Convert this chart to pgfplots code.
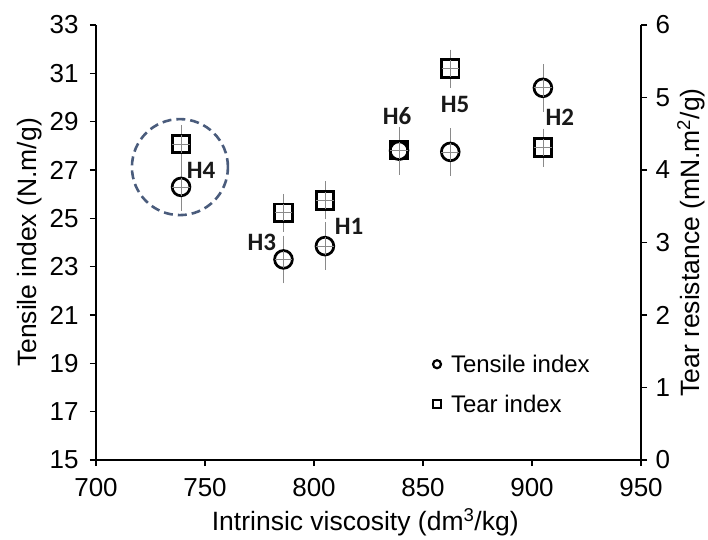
\documentclass[border=0pt]{standalone}
\usepackage{fontspec}
\setmainfont{Liberation Sans}
\newfontfamily\hfont{Carlito}
\usepackage{pgfplots}
\pgfplotsset{compat=1.18}
\definecolor{ringblue}{HTML}{4A5C7C}
\definecolor{ebgray}{HTML}{8A8A8A}

\pgfdeclareplotmark{circx}{%
  \pgfpathcircle{\pgfpointorigin}{\pgfplotmarksize}%
  \pgfusepathqstroke
  \begin{pgfscope}%
  \pgfsetlinewidth{0.7pt}\pgfsetstrokecolor{ebgray}%
  \pgfpathmoveto{\pgfqpoint{-\pgfplotmarksize}{0pt}}%
  \pgfpathlineto{\pgfqpoint{\pgfplotmarksize}{0pt}}%
  \pgfpathmoveto{\pgfqpoint{0pt}{-\pgfplotmarksize}}%
  \pgfpathlineto{\pgfqpoint{0pt}{\pgfplotmarksize}}%
  \pgfusepathqstroke
  \end{pgfscope}%
}
\pgfdeclareplotmark{sqx}{%
  \pgfpathrectanglecorners{\pgfqpoint{-\pgfplotmarksize}{-\pgfplotmarksize}}{\pgfqpoint{\pgfplotmarksize}{\pgfplotmarksize}}%
  \pgfusepathqstroke
  \begin{pgfscope}%
  \pgfsetlinewidth{0.7pt}\pgfsetstrokecolor{ebgray}%
  \pgfpathmoveto{\pgfqpoint{-\pgfplotmarksize}{0pt}}%
  \pgfpathlineto{\pgfqpoint{\pgfplotmarksize}{0pt}}%
  \pgfpathmoveto{\pgfqpoint{0pt}{-\pgfplotmarksize}}%
  \pgfpathlineto{\pgfqpoint{0pt}{\pgfplotmarksize}}%
  \pgfusepathqstroke
  \end{pgfscope}%
}

\pgfplotstableread{
x y e
739 26.3 0.8
786 23.3 0.8
805 23.85 0.8
839 27.8 0.8
862.5 27.75 0.8
905 30.4 0.8
}\tensile
\pgfplotstableread{
x y e
739 4.36 0.2
786 3.41 0.2
805 3.58 0.2
839 4.27 0.15
862.5 5.40 0.2
905 4.31 0.2
}\tear

\newcommand{\tickfont}{\fontsize{26}{26}\selectfont}
\pgfplotsset{
  common/.style={
    scale only axis, width=545pt, height=435pt,
    xmin=700, xmax=950,
    tick align=outside, major tick length=6pt,
    axis line style={line width=1.8pt, -},
    tick style={line width=1.5pt, black},
    xticklabel style={font=\tickfont, yshift=-9pt},
    yticklabel style={font=\tickfont},
    xticklabel={\tickfont\pgfmathprintnumber[assume math mode=true,1000 sep={}]{\tick}},
    yticklabel={\tickfont\pgfmathprintnumber[assume math mode=true,1000 sep={}]{\tick}},
    label style={font=\fontsize{26.5}{26.5}\selectfont},
    clip=false,
  },
  ebars/.style={
    error bars/.cd, y dir=both, y explicit,
    error bar style={ebgray, line width=0.8pt},
    error mark options={ebgray, line width=0.8pt, mark size=4.5pt},
  },
}

\begin{document}
\begin{tikzpicture}
\useasboundingbox (-96pt,-79pt) rectangle (612pt,460pt);
\begin{axis}[common,
  ymin=15, ymax=33,
  xtick={700,750,...,950}, ytick={15,17,...,33},
  axis x line*=bottom, axis y line*=left,
  yticklabel style={xshift=-8pt},
  xlabel={Intrinsic viscosity (dm\textsuperscript{3}/kg)},
  ylabel={Tensile index (N.m/g)},
  xlabel style={at={(axis description cs:0.494,0)}, anchor=center, yshift=-62pt},
  ylabel style={at={(axis description cs:0,0.5)}, anchor=center, yshift=66pt},
]
\addplot[only marks, mark=circx, mark size=8.9pt, mark options={line width=2.7pt, black}, ebars]
  table[x=x, y=y, y error=e] {\tensile};
\draw[ringblue, line width=2.6pt, dash pattern=on 9pt off 5pt] (axis cs:738.5,27.12) circle[radius=48pt];
\node[font=\hfont\bfseries\fontsize{25}{25}\selectfont, text=black!90] at (axis cs:748.2,27.0) {H4};
\node[font=\hfont\bfseries\fontsize{25}{25}\selectfont, text=black!90] at (axis cs:776.1,24.02) {H3};
\node[font=\hfont\bfseries\fontsize{25}{25}\selectfont, text=black!90] at (axis cs:816.1,24.68) {H1};
\node[font=\hfont\bfseries\fontsize{25}{25}\selectfont, text=black!90] at (axis cs:838.1,29.23) {H6};
\node[font=\hfont\bfseries\fontsize{25}{25}\selectfont, text=black!90] at (axis cs:864.7,29.73) {H5};
\node[font=\hfont\bfseries\fontsize{25}{25}\selectfont, text=black!90] at (axis cs:912.8,29.19) {H2};
\end{axis}
\begin{axis}[common,
  ymin=0, ymax=6, ytick={0,1,...,6},
  axis x line=none, axis y line*=right,
  yticklabel style={xshift=5pt},
  ylabel={Tear resistance (mN.m\textsuperscript{2}/g)},
  ylabel style={at={(axis description cs:1,0.5)}, anchor=center, yshift=-50pt},
  legend style={at={(0.618,0.247)}, anchor=north west, draw=none, fill=none,
    font=\fontsize{24}{24}\selectfont, row sep=17pt, inner sep=0pt,
    nodes={inner sep=2pt}},
  legend image code/.code={\draw[#1] plot coordinates {(0.1cm,0cm)};},
  legend cell align=left,
]
\addlegendimage{only marks, mark=o, mark size=4pt, mark options={line width=2.2pt, black}}
\addlegendentry{\hspace{8pt}Tensile index}
\addlegendimage{only marks, mark=square, mark size=4pt, mark options={line width=2.2pt, black}}
\addlegendentry{\hspace{8pt}Tear index}
\addplot[forget plot, only marks, mark=sqx, mark size=8.7pt, mark options={line width=2.7pt, black}, ebars]
  table[x=x, y=y, y error=e] {\tear};
\end{axis}
\end{tikzpicture}
\end{document}
